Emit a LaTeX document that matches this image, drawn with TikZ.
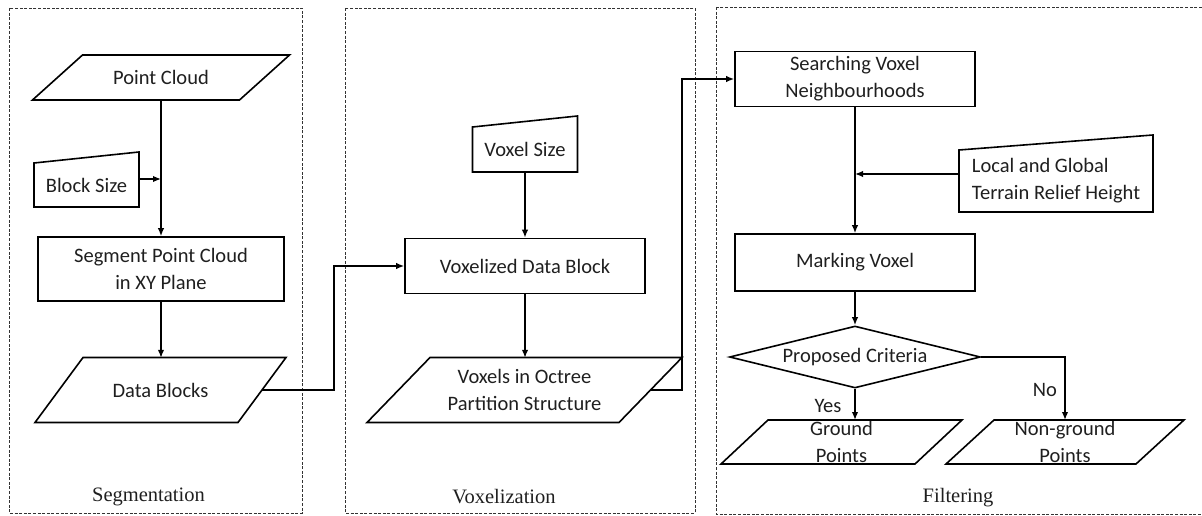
\documentclass[tikz,border=0pt]{standalone}
\usepackage{fontspec}
\setmainfont{Carlito}
\newfontfamily\capfont{Liberation Serif}
\usetikzlibrary{shapes.geometric,arrows.meta}

% parallelogram outline around a node: node, half side, half height, half slant
\newcommand\paraoutline[4]{%
  \draw[outl] ([shift={(-#2pt-#4pt,-#3pt)}]#1.center) -- ([shift={(#2pt-#4pt,-#3pt)}]#1.center)
    -- ([shift={(#2pt+#4pt,#3pt)}]#1.center) -- ([shift={(-#2pt+#4pt,#3pt)}]#1.center) -- cycle;}
% manual-input outline: node, half width, half height, rise of the top edge
\newcommand\maninoutline[4]{%
  \draw[outl] ([shift={(-#2pt,-#3pt)}]#1.center) -- ([shift={(#2pt,-#3pt)}]#1.center)
    -- ([shift={(#2pt,#3pt+#4pt)}]#1.center) -- ([shift={(-#2pt,#3pt)}]#1.center) -- cycle;}

\begin{document}
\begin{tikzpicture}[x=1pt,y=-1pt,
  every node/.style={font=\fontsize{20.5}{27}\selectfont, inner sep=0pt, text=black!88},
  outl/.style={draw=black, line width=1.6pt},
  box/.style={outl, align=center},
  panel/.style={draw=black!80, line width=0.9pt, dash pattern=on 3pt off 1.6pt},
  arr/.style={draw=black, line width=1.5pt, -{Latex[length=8pt,width=6.5pt]}},
  caption/.style={font=\capfont\fontsize{20.5}{24}\selectfont}
]
\useasboundingbox (0,0) rectangle (1202,516);

% stage frames
\draw[panel] (9,8) rectangle (302,513);
\draw[panel] (345,8) rectangle (695,513);
\draw[panel] (716,7) rectangle (1204,514);

\node[caption] (capseg) at (148.5,497) {Segmentation};
\node[caption] (capvox) at (504,497) {Voxelization};
\node[caption] (capfil) at (958,498) {Filtering};

% segmentation
\node[minimum width=207pt, minimum height=45pt] (pc) at (161,77.5) {Point Cloud};
\paraoutline{pc}{103.5}{22.5}{25}
\node[minimum width=105pt, minimum height=44pt] (bs) at (86.5,185) {Block Size};
\maninoutline{bs}{52.5}{22}{11}
\node[box, minimum width=246pt, minimum height=64pt] (seg) at (161,269) {Segment Point Cloud\\in XY Plane};
\node[minimum width=203pt, minimum height=64pt] (db) at (160.5,390) {Data Blocks};
\paraoutline{db}{101.5}{32.5}{24}

% voxelization
\node[minimum width=105pt, minimum height=45pt] (vs) at (525,149.5) {Voxel Size};
\maninoutline{vs}{52.5}{22.5}{11}
\node[box, minimum width=240pt, minimum height=55pt] (vdb) at (525,266) {Voxelized Data Block};
\node[align=center, minimum width=252pt, minimum height=64pt] (vo) at (524.5,390) {Voxels in Octree\\Partition Structure};
\paraoutline{vo}{126}{32.5}{31.5}

% filtering
\node[box, minimum width=240pt, minimum height=55pt] (svn) at (855,79) {Searching Voxel\\Neighbourhoods};
\node[align=left, minimum width=194pt, minimum height=62pt] (lg) at (1056,181) {Local and Global\\Terrain Relief Height};
\maninoutline{lg}{97}{31}{15}
\node[box, minimum width=240pt, minimum height=57pt] (mv) at (855,262.5) {Marking Voxel};
\node[outl, diamond, aspect=4.05, minimum width=251pt, minimum height=62pt] (dia) at (855,357) {Proposed Criteria};
\node[align=center, minimum width=194pt] (gp) at (841.5,442) {Ground\\Points};
\paraoutline{gp}{97}{22}{23.5}
\node[align=center, minimum width=190pt] (ng) at (1065,442) {Non-ground\\Points};
\paraoutline{ng}{95}{22}{24}

\coordinate (bsout) at ([yshift=6pt]bs.east);
\coordinate (lgout) at ([yshift=7pt]lg.west);
\coordinate (gptop) at ([yshift=22pt]gp.center);
\coordinate (ngtop) at ([yshift=22pt]ng.center);

% connectors
\draw[arr] (pc.south) -- (pc.south |- seg.north);
\draw[arr] (bsout) -- (bsout -| pc.south);
\draw[arr] (seg.south) -- (seg.south |- db.north);
\draw[arr] (db.east) -- ++(72,0) |- (vdb.west);
\draw[arr] (vs.south) -- (vs.south |- vdb.north);
\draw[arr] (vdb.south) -- (vdb.south |- vo.north);
\draw[arr] (vo.east) -- ++(31.5,0) |- (svn.west);
\draw[arr] (svn.south) -- (svn.south |- mv.north);
\draw[arr] (lgout) -- (lgout -| svn.south);
\draw[arr] (mv.south) -- (dia.north);
\draw[arr] (dia.south) -- (dia.south |- gptop);
\draw[arr] (dia.east) -| (ngtop);

\node (yes) at (828,406) {Yes};
\node (no) at (1045,390) {No};
\end{tikzpicture}
\end{document}
